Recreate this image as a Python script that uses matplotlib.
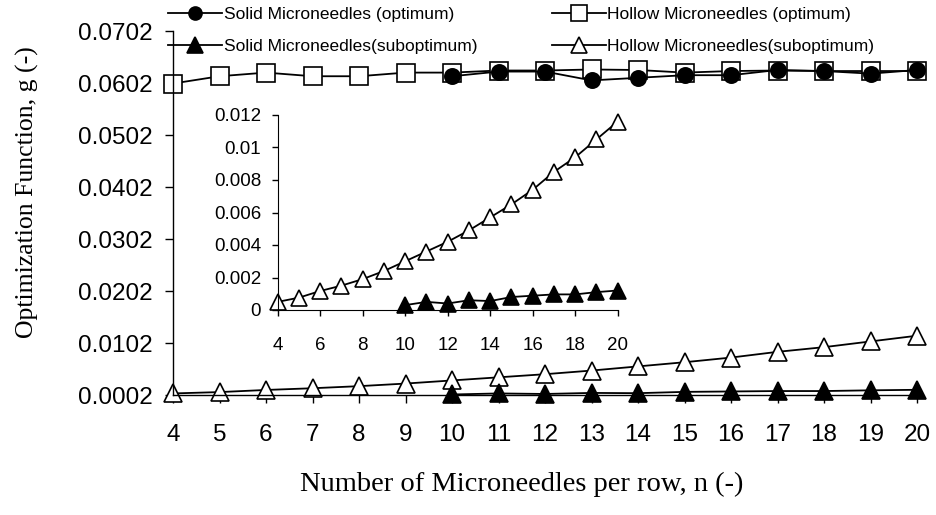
import numpy as np
import matplotlib
matplotlib.use('Agg')
import matplotlib.pyplot as plt

plt.rcParams['font.family'] = ['Liberation Sans', 'DejaVu Sans']

# data
n_all = [4, 5, 6, 7, 8, 9, 10, 11, 12, 13, 14, 15, 16, 17, 18, 19, 20]
n_solid = [10, 11, 12, 13, 14, 15, 16, 17, 18, 19, 20]

hollow_opt = [0.0601, 0.0615, 0.0622, 0.0615, 0.0615, 0.0622, 0.0622, 0.0626, 0.0626,
              0.0628, 0.0627, 0.0622, 0.0625, 0.0626, 0.0625, 0.0625, 0.0625]
solid_opt = [0.0615, 0.0624, 0.0624, 0.0607, 0.0612, 0.0617, 0.0617, 0.0627, 0.0625,
             0.0620, 0.0627]
hollow_sub = [0.0005, 0.00076, 0.00117, 0.0015, 0.0019, 0.0024, 0.0030, 0.0036, 0.0042,
              0.0049, 0.0057, 0.0065, 0.0074, 0.0085, 0.0094, 0.0105, 0.0116]
solid_sub = [0.0003, 0.0005, 0.0004, 0.0006, 0.00055, 0.0008, 0.00088, 0.00096, 0.00096,
             0.0011, 0.0012]

main_yticks = [0.0002, 0.0102, 0.0202, 0.0302, 0.0402, 0.0502, 0.0602, 0.0702]
inset_yticks = [0, 0.002, 0.004, 0.006, 0.008, 0.01, 0.012]
inset_xticks = [4, 6, 8, 10, 12, 14, 16, 18, 20]

labels = ['Solid Microneedles (optimum)', 'Solid Microneedles(suboptimum)',
          'Hollow Microneedles (optimum)', 'Hollow Microneedles(suboptimum)']

fig = plt.figure(figsize=(9.36, 5.15), dpi=100)
ax = fig.add_axes([173/936, 1-395/515, 744/936, 364/515])

lw = 1.3
mew = 1.2
h_hopt, = ax.plot(n_all, hollow_opt, 's-', color='black', mfc='white', ms=13, mew=mew, lw=lw, clip_on=False)
h_sopt, = ax.plot(n_solid, solid_opt, 'o-', color='black', ms=11, mew=mew, lw=lw, clip_on=False)
h_hsub, = ax.plot(n_all, hollow_sub, '^-', color='black', mfc='white', ms=13, mew=mew, lw=lw, clip_on=False)
h_ssub, = ax.plot(n_solid, solid_sub, '^-', color='black', ms=13, mew=mew, lw=lw, clip_on=False)

ax.set_xlim(4, 20)
ax.set_ylim(0.0002, 0.0702)
ax.set_xticks(n_all)
ax.set_yticks(main_yticks)
ax.set_yticklabels(['%.4f' % v for v in main_yticks])
for s in ['top', 'right']:
    ax.spines[s].set_visible(False)
for s in ['left', 'bottom']:
    ax.spines[s].set_linewidth(1.0)
ax.tick_params(axis='x', length=6, width=1, pad=15, labelsize=17.5)
ax.tick_params(axis='y', length=6, width=1, pad=8.5, labelsize=17.5)
ax.patch.set_alpha(0)

# inset
axin = fig.add_axes([277.7/936, 1-310/515, 340/936, 195/515])
axin.plot(n_all, hollow_sub, '^-', color='black', mfc='white', ms=12, mew=mew, lw=lw, clip_on=False)
axin.plot(n_solid, solid_sub, '^-', color='black', ms=12, mew=mew, lw=lw, clip_on=False)
axin.set_xlim(4, 20)
axin.set_ylim(0, 0.012)
axin.set_xticks(inset_xticks)
axin.set_yticks(inset_yticks)
axin.set_yticklabels(['%g' % v for v in inset_yticks])
for s in ['top', 'right']:
    axin.spines[s].set_visible(False)
axin.tick_params(axis='x', length=4.5, width=1, pad=15, labelsize=13.5)
axin.tick_params(axis='y', length=4, width=1, pad=8, labelsize=13.5)
axin.patch.set_alpha(0)

fig.legend([h_sopt, h_ssub, h_hopt, h_hsub], labels, loc='upper left',
           bbox_to_anchor=(168/936, 1-7/515), ncol=2, frameon=False, fontsize=12.5,
           handlelength=3.1, handletextpad=0.1, columnspacing=4.3, labelspacing=0.95,
           borderpad=0, borderaxespad=0, markerscale=0.85)

fig.text(522/936, 1-484/515, 'Number of Microneedles per row, n (-)', ha='center', va='center',
         family='Liberation Serif', fontsize=20.5)
fig.text(27/936, 1-192/515, 'Optimization Function, g (-)', ha='center', va='center',
         rotation=90, family='Liberation Serif', fontsize=18.5)

fig.savefig('out.png', dpi=100)
